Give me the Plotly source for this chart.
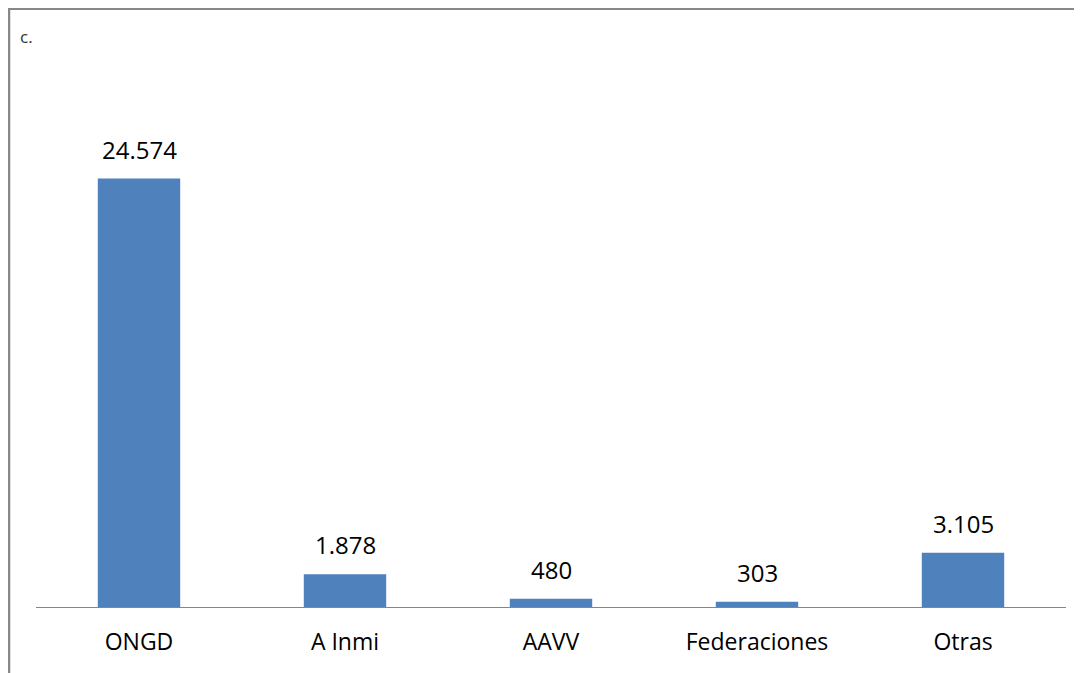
import plotly.graph_objects as go

categories = ["ONGD", "A Inmi", "AAVV", "Federaciones", "Otras"]
values = [24574, 1878, 480, 303, 3105]
value_labels = ["24.574", "1.878", "480", "303", "3.105"]

# page body has an 8px margin, so the figure is sized/offset accordingly
OFF = 8
W, H = 1082 - OFF, 673 - OFF
L, R, T, B = 36 - OFF, 16, 84 - OFF, 66
pw, ph = W - L - R, H - T - B

def px_x(p):
    return (p - OFF - L) / pw

def px_y(p):
    return (H - B - (p - OFF)) / ph

fig = go.Figure(go.Bar(
    x=categories, y=values,
    marker=dict(color="#4F81BD", line=dict(width=0)),
    hoverinfo="skip",
))

annotations = [
    dict(x=c, y=v, text=t, xref="x", yref="y", showarrow=False,
         xanchor="center", yanchor="bottom", yshift=11,
         font=dict(family="Open Sans", size=24, color="#000000"))
    for c, v, t in zip(categories, values, value_labels)
]
annotations.append(dict(text="c.", xref="paper", yref="paper", x=px_x(18), y=px_y(37),
                        xanchor="left", yanchor="middle", showarrow=False,
                        font=dict(family="Open Sans", size=17, color="#333333")))

fig.update_layout(
    width=W, height=H,
    margin=dict(l=L, r=R, t=T, b=B),
    paper_bgcolor="white", plot_bgcolor="white",
    bargap=0.6, showlegend=False,
    font=dict(family="Open Sans", color="#000000"),
    xaxis=dict(showline=True, linecolor="#868686", linewidth=1, ticks="",
               tickfont=dict(family="Open Sans", size=23, color="#000000"),
               ticklabelstandoff=14, showgrid=False, zeroline=False),
    yaxis=dict(range=[0, 30000], visible=False, showgrid=False, zeroline=False),
    shapes=[
        dict(type="line", xref="paper", yref="paper", x0=px_x(9), x1=px_x(9),
             y0=px_y(8), y1=px_y(680), line=dict(color="#888888", width=2.5)),
        dict(type="line", xref="paper", yref="paper", x0=px_x(8), x1=px_x(1082),
             y0=px_y(9), y1=px_y(9), line=dict(color="#888888", width=2)),
    ],
    annotations=annotations,
)

fig.write_html("out.html", config={"displayModeBar": False})
